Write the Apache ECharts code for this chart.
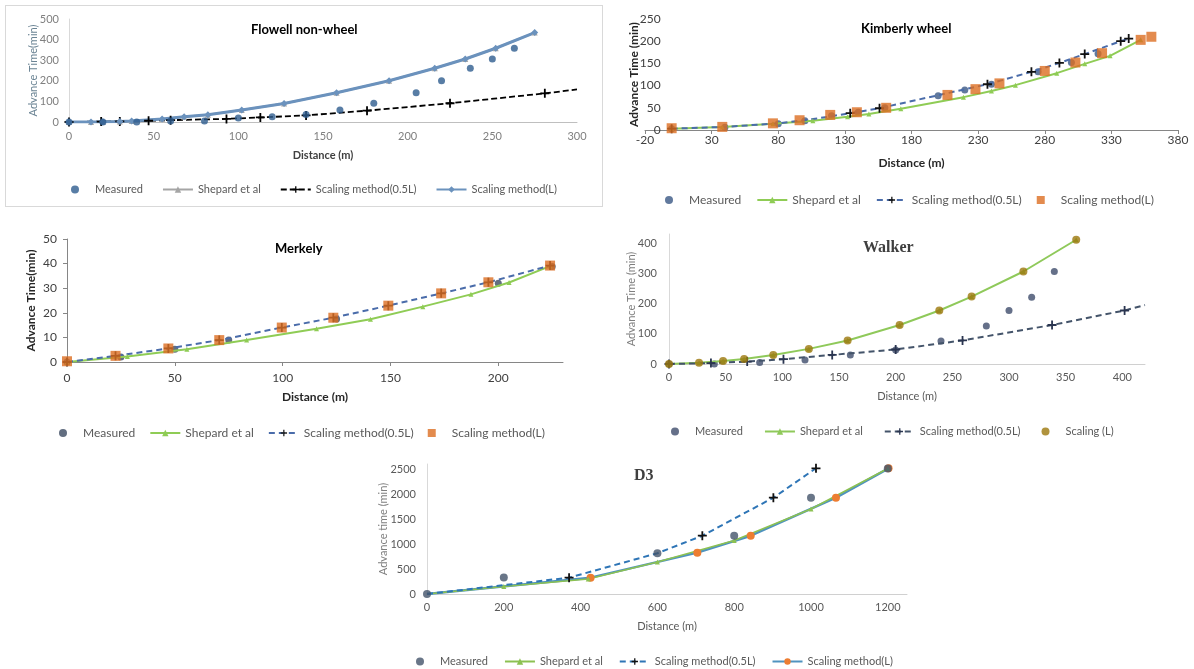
<!DOCTYPE html>
<html>
<head>
<meta charset="utf-8">
<title>Advance time</title>
<script src="https://cdn.jsdelivr.net/npm/echarts@6/dist/echarts.min.js"></script>
<style>
  body { margin: 0; background: #fff; width: 1194px; height: 669px; position: relative; overflow: hidden; }
  .panel { position: absolute; }
  .frame { position: absolute; left: 5px; top: 5px; width: 598px; height: 202px; border: 1px solid #d9d9d9; box-sizing: border-box; }
</style>
</head>
<body>
<div class="frame"></div>
<div class="panel" id="flowell" style="left:0;top:0;width:610px;height:215px"></div>
<div class="panel" id="kimberly" style="left:610px;top:0;width:584px;height:215px"></div>
<div class="panel" id="merkely" style="left:0;top:215px;width:610px;height:230px"></div>
<div class="panel" id="walker" style="left:610px;top:215px;width:584px;height:230px"></div>
<div class="panel" id="d3" style="left:360px;top:450px;width:560px;height:219px"></div>
<script>
// [distance (m), advance time (min)]
var flowMeasured = [[0, 0], [20, 0], [40, 0], [60, 5], [80, 5], [100, 20], [120, 25], [140, 37], [160, 58], [180, 91], [205, 142], [220, 200], [237, 261], [250, 306], [263, 358]];
var flowShepard = [[0, 0], [13, 0], [20, 1], [30, 3], [37, 5], [55, 15], [68, 25], [82, 35], [102, 58], [127, 90], [158, 142], [189, 200], [216, 261], [234, 306], [252, 358], [275, 434]];
var flowHalfL = [[0, 0], [19, 2], [30, 3], [47, 6], [60, 9], [93, 15], [113, 22], [140, 32], [176, 55], [225, 91], [281, 139], [300, 158]];
var flowScaleL = [[0, 0], [13, 0], [20, 1], [30, 3], [37, 5], [55, 15], [68, 25], [82, 35], [102, 58], [127, 90], [158, 142], [189, 200], [216, 261], [234, 306], [252, 358], [275, 434]];

var kimMeasured = [[0, 3], [40, 6], [80, 14], [100, 21], [120, 32], [140, 40], [160, 50], [200, 77], [220, 90], [240, 103], [275, 131], [300, 152], [320, 172]];
var kimShepard = [[0, 3], [38, 7], [76, 14], [106, 21], [132, 30], [148, 36], [172, 48], [219, 74], [240, 88], [258, 101], [289, 128], [310, 149], [329, 167], [352, 203]];
var kimHalfL = [[0, 3], [40, 7], [80, 15], [100, 22], [120, 31], [134, 38], [156, 49], [237, 103], [270, 131], [291, 151], [310, 171], [337, 200], [343, 206]];
var kimScaleL = [[0, 4], [38, 7], [76, 15], [96, 22], [119, 34], [139, 40], [161, 50], [207, 79], [228, 92], [246, 105], [280, 133], [303, 152], [323, 173], [352, 203], [360, 210]];

var merMeasured = [[0, 0], [25, 2], [50, 5.2], [75, 8.9], [125, 17.5], [200, 32], [225, 38.8]];
var merShepard = [[0, 0], [28, 2.2], [55.6, 5.2], [83.3, 8.9], [115.7, 13.5], [140.7, 17.4], [165, 22.5], [187.3, 27.5], [205, 32.3], [224, 39]];
var merHalfL = [[0, 0], [22.5, 2.5], [47, 5.5], [70.6, 8.9], [99.6, 14], [123.5, 18], [149, 22.9], [173.5, 27.9], [195.4, 32.4], [224, 39.2]];
var merScaleL = [[0, 0.3], [22.5, 2.5], [47, 5.5], [70.6, 8.9], [99.6, 14], [123.5, 18], [149, 22.9], [173.5, 27.9], [195.4, 32.4], [224, 39.2]];

var walMeasured = [[0, 0], [40, 0], [80, 5], [120, 13], [160, 30], [200, 46], [240, 76], [280, 126], [300, 177], [320, 221], [340, 306]];
var walShepard = [[0, 0], [26.5, 4], [47.7, 10], [66.3, 16.5], [92, 30], [123.4, 50], [157.6, 78], [203.5, 129], [238.5, 177], [267, 223], [312.7, 306], [359.3, 411]];
var walHalfL = [[0, 0], [37, 3], [69, 8], [101, 16], [144, 30], [200, 48], [259, 78], [338, 129], [402, 177], [420, 195]];
var walScaleL = [[0, 0], [26.5, 4], [47.7, 10], [66.3, 16.5], [92, 30], [123.4, 50], [157.6, 78], [203.5, 129], [238.5, 177], [267, 223], [312.7, 306], [359.3, 411]];

var d3Measured = [[0, 0], [200, 330], [600, 815], [800, 1165], [1000, 1925], [1200, 2510]];
var d3Shepard = [[0, 0], [200, 150], [420, 300], [600, 640], [800, 1070], [1000, 1700], [1200, 2510]];
var d3HalfL = [[0, 0], [370, 327], [600, 815], [717, 1166], [902, 1926], [1013, 2514]];
var d3ScaleL = [[0, 0], [426, 327], [704, 827], [843, 1166], [1065, 1926], [1202, 2514]];

var SQUARE = 'path://M0,0H10V10H0Z';
var PLUS = 'path://M4,0H6V10H4ZM0,4H10V6H0Z';

var legendNames = ['Measured', 'Shepard et al', 'Scaling method(0.5L)', 'Scaling method(L)'];
var squareNames = ['Measured', 'Shepard et al', 'Scaling method(0.5L)', { name: 'Scaling method(L)', icon: SQUARE }];
var walkerNames = ['Measured', 'Shepard et al', 'Scaling method(0.5L)', 'Scaling (L)'];

// points listed in hide get no marker, only the line goes through them
function marks(arr, hide) {
  return arr.map(function (p, i) {
    return hide && hide.indexOf(i) >= 0 ? { value: p, symbol: 'none' } : p;
  });
}

function steps(min, max, step) {
  var out = [];
  for (var v = min; v <= max + 1e-9; v += step) out.push(v);
  return out;
}

function axis(o) {
  var ticks = steps(o.min, o.max, o.step);
  return {
    type: 'value', gridIndex: o.grid || 0, min: o.min, max: o.max, interval: o.step,
    name: o.name, nameLocation: 'middle', nameGap: o.gap, nameMoveOverlap: false,
    nameTextStyle: { color: o.nameColor, fontSize: o.nameSize || 12, fontWeight: o.bold ? 'bold' : 'normal' },
    axisLine: { show: true, onZero: false, lineStyle: { color: o.line, width: 1, opacity: o.hideLine ? 0 : 1 } },
    axisTick: { show: !!o.ticks, length: 4, lineStyle: { color: o.line }, customValues: ticks },
    axisLabel: {
      color: o.labelColor, fontSize: o.labelSize || 12, margin: o.margin, customValues: ticks,
      formatter: function (v) { return Math.abs((v - o.min) % o.step) < 1e-9 ? String(v) : ''; }
    },
    splitLine: { show: false }
  };
}

function legend(left, top, size, gap, names) {
  return {
    left: left, top: top, itemWidth: 30, itemHeight: 8, itemGap: gap, selectedMode: false,
    textStyle: { fontFamily: 'Lato', fontSize: size, color: '#595959' },
    data: names
  };
}

function title(text, left, top, size, serif, color) {
  return {
    text: text, left: left, top: top,
    textStyle: { fontFamily: serif ? 'Liberation Serif' : 'Lato', fontWeight: 'bold', fontSize: size, color: color || '#000' }
  };
}

function panel(id, opt) {
  var chart = echarts.init(document.getElementById(id));
  opt.animation = false;
  opt.textStyle = { fontFamily: 'Lato' };
  [].concat(opt.grid).forEach(function (g) { g.outerBoundsMode = 'none'; });
  chart.setOption(opt);
}

// Flowell non-wheel
panel('flowell', {
  title: title('Flowell non-wheel', 246, 18, 13),
  grid: { left: 69, top: 19, width: 508, height: 103 },
  xAxis: axis({ min: 0, max: 300, step: 50, name: 'Distance (m)', gap: 28, bold: true, nameSize: 11, nameColor: '#404040',
    line: '#bfbfbf', labelColor: '#7f7f7f', labelSize: 11, margin: 9 }),
  yAxis: axis({ min: 0, max: 500, step: 100, name: 'Advance Time(min)', gap: 30, nameSize: 11, nameColor: '#6b8494',
    line: '#d9d9d9', labelColor: '#7f7f7f', labelSize: 11, margin: 10 }),
  legend: legend(66, 179, 11, 19, legendNames),
  series: [
    { name: 'Measured', type: 'scatter', data: flowMeasured, symbol: 'circle', symbolSize: 7, z: 5, itemStyle: { color: '#2e5d8e' } },
    { name: 'Shepard et al', type: 'line', data: flowShepard, symbol: 'triangle', symbolSize: 6,
      itemStyle: { color: '#a5a5a5' }, lineStyle: { color: '#a5a5a5', width: 2 } },
    { name: 'Scaling method(0.5L)', type: 'line', data: marks(flowHalfL, [11]), symbol: PLUS, symbolSize: 9,
      itemStyle: { color: '#000' }, lineStyle: { color: '#000', width: 1.8, type: [6, 3] } },
    { name: 'Scaling method(L)', type: 'line', data: flowScaleL, symbol: 'diamond', symbolSize: 7,
      itemStyle: { color: '#6b92bd' }, lineStyle: { color: '#6b92bd', width: 3 } }
  ]
});

// Kimberly wheel: the vertical axis crosses at distance 0, so it lives in a
// second, narrow grid whose left edge sits where x = 0 falls in the main grid
panel('kimberly', {
  title: title('Kimberly wheel', 246, 17, 13),
  grid: [
    { left: 35, top: 19, width: 533, height: 111 },
    { left: 61.7, top: 19, width: 20, height: 111 }
  ],
  xAxis: [
    axis({ min: -20, max: 380, step: 50, name: 'Distance (m)', gap: 27, bold: true, nameColor: '#262626',
      line: '#868686', ticks: true, labelColor: '#404040', margin: 4 }),
    { type: 'value', gridIndex: 1, show: false, min: 0, max: 1 }
  ],
  yAxis: [
    { type: 'value', gridIndex: 0, show: false, min: 0, max: 250 },
    axis({ grid: 1, min: 0, max: 250, step: 50, name: 'Advance Time (min)', gap: 32, bold: true, nameColor: '#262626',
      line: '#868686', hideLine: true, labelColor: '#404040', margin: 11 })
  ],
  legend: legend(50, 189, 12, 15, squareNames),
  series: [
    { name: 'Measured', type: 'scatter', data: kimMeasured, symbol: 'circle', symbolSize: 7, itemStyle: { color: '#3a5784' } },
    { name: 'Shepard et al', type: 'line', data: kimShepard, symbol: 'triangle', symbolSize: 5,
      itemStyle: { color: '#8fcc55' }, lineStyle: { color: '#8fcc55', width: 2 } },
    { name: 'Scaling method(0.5L)', type: 'line', data: marks(kimHalfL, [1, 2, 3, 4]), symbol: PLUS, symbolSize: 9,
      itemStyle: { color: '#111' }, lineStyle: { color: '#4a6caa', width: 2, type: [6, 4] } },
    { name: 'Scaling method(L)', type: 'scatter', data: kimScaleL, symbol: SQUARE, symbolSize: 10, z: 5,
      itemStyle: { color: '#dc6e22' } }
  ]
});

// Merkely
panel('merkely', {
  title: title('Merkely', 270, 22, 13),
  grid: { left: 67, top: 24, width: 496, height: 123 },
  xAxis: axis({ min: 0, max: 230, step: 50, name: 'Distance (m)', gap: 29, bold: true, nameColor: '#262626',
    line: '#868686', ticks: true, labelColor: '#404040', margin: 10 }),
  yAxis: axis({ min: 0, max: 50, step: 10, name: 'Advance Time(min)', gap: 30, bold: true, nameColor: '#262626',
    line: '#868686', ticks: true, labelColor: '#404040', margin: 10 }),
  legend: legend(54, 207, 12, 14, squareNames),
  series: [
    { name: 'Measured', type: 'scatter', data: merMeasured, symbol: 'circle', symbolSize: 7, itemStyle: { color: '#3b4a60' } },
    { name: 'Shepard et al', type: 'line', data: merShepard, symbol: 'triangle', symbolSize: 5,
      itemStyle: { color: '#8fcc55' }, lineStyle: { color: '#8fcc55', width: 2 } },
    { name: 'Scaling method(0.5L)', type: 'line', data: merHalfL, symbol: PLUS, symbolSize: 9,
      itemStyle: { color: '#222' }, lineStyle: { color: '#4a6caa', width: 2, type: [6, 4] } },
    { name: 'Scaling method(L)', type: 'scatter', data: merScaleL, symbol: SQUARE, symbolSize: 10, z: 5,
      itemStyle: { color: '#dc6e22' } }
  ]
});

// Walker
panel('walker', {
  title: title('Walker', 248, 20, 16, true, '#3f3f3f'),
  grid: { left: 59, top: 19, width: 476, height: 130 },
  xAxis: axis({ min: 0, max: 420, step: 50, name: 'Distance (m)', gap: 27, nameColor: '#595959', nameSize: 11,
    line: '#d0d0d0', labelColor: '#595959', labelSize: 11, margin: 8 }),
  yAxis: axis({ min: 0, max: 430, step: 100, name: 'Advance Time (min)', gap: 32, nameColor: '#7f7f7f', nameSize: 11,
    line: '#d9d9d9', labelColor: '#595959', labelSize: 11, margin: 12 }),
  legend: legend(56, 206, 11, 21, walkerNames),
  series: [
    { name: 'Measured', type: 'scatter', data: walMeasured, symbol: 'circle', symbolSize: 7, itemStyle: { color: '#3f4c6b' } },
    { name: 'Shepard et al', type: 'line', data: walShepard, symbol: 'triangle', symbolSize: 5,
      itemStyle: { color: '#8fc95a' }, lineStyle: { color: '#8fc95a', width: 2 } },
    { name: 'Scaling method(0.5L)', type: 'line', data: marks(walHalfL, [9]), symbol: PLUS, symbolSize: 9,
      itemStyle: { color: '#2a3550' }, lineStyle: { color: '#44546a', width: 2, type: [6, 4] } },
    { name: 'Scaling (L)', type: 'scatter', data: walScaleL, symbol: 'circle', symbolSize: 8, z: 5,
      itemStyle: { color: '#9c780c' } }
  ]
});

// D3
panel('d3', {
  title: title('D3', 269, 13, 16, true, '#3f3f3f'),
  grid: { left: 67, top: 14, width: 480, height: 130 },
  xAxis: axis({ min: 0, max: 1250, step: 200, name: 'Distance (m)', gap: 27, nameColor: '#595959', nameSize: 11,
    line: '#d0d0d0', labelColor: '#595959', labelSize: 11, margin: 8 }),
  yAxis: axis({ min: 0, max: 2600, step: 500, name: 'Advance time (min)', gap: 38, nameColor: '#7f7f7f', nameSize: 11,
    line: '#d9d9d9', labelColor: '#595959', labelSize: 11, margin: 11 }),
  legend: legend(51, 201, 11, 16, legendNames),
  series: [
    { name: 'Measured', type: 'scatter', data: d3Measured, symbol: 'circle', symbolSize: 8, z: 5, itemStyle: { color: '#44546a' } },
    { name: 'Scaling method(L)', type: 'line', data: marks(d3ScaleL, [0]), symbol: 'circle', symbolSize: 8,
      itemStyle: { color: '#ed7d31' }, lineStyle: { color: '#4f93bf', width: 2.5 } },
    { name: 'Shepard et al', type: 'line', data: marks(d3Shepard, [0]), symbol: 'triangle', symbolSize: 5,
      itemStyle: { color: '#8cc152' }, lineStyle: { color: '#8cc152', width: 1.5 } },
    { name: 'Scaling method(0.5L)', type: 'line', data: marks(d3HalfL, [0, 2]), symbol: PLUS, symbolSize: 9,
      itemStyle: { color: '#111' }, lineStyle: { color: '#2e75b6', width: 2, type: [6, 4] } }
  ]
});
</script>
</body>
</html>
